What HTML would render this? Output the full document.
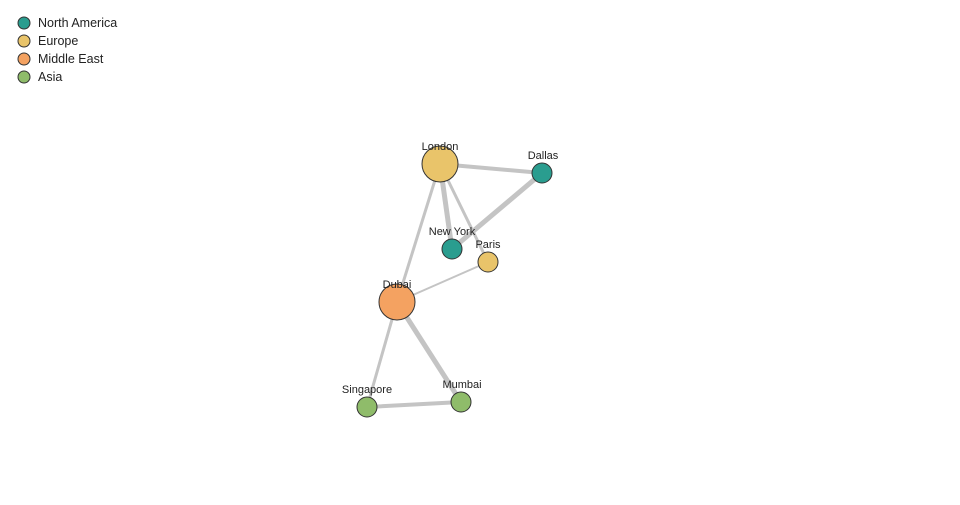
<!DOCTYPE html>
<html><head><style>
body{margin:0;width:960px;height:500px;background:#fff;overflow:hidden}
svg text{font-family:"Liberation Sans","DejaVu Sans",sans-serif;fill:#222}
</style></head><body>
<svg width="960" height="500" viewBox="0 0 960 500">
<g stroke="#c4c4c4" stroke-linecap="round">
<line x1="440" y1="164" x2="542" y2="173" stroke-width="4"/>
<line x1="440" y1="164" x2="452" y2="249" stroke-width="5"/>
<line x1="440" y1="164" x2="488" y2="262" stroke-width="3"/>
<line x1="542" y1="173" x2="452" y2="249" stroke-width="5"/>
<line x1="440" y1="164" x2="397" y2="302" stroke-width="3"/>
<line x1="397" y1="302" x2="488" y2="262" stroke-width="2"/>
<line x1="397" y1="302" x2="367" y2="407" stroke-width="3"/>
<line x1="397" y1="302" x2="461" y2="402" stroke-width="5"/>
<line x1="367" y1="407" x2="461" y2="402" stroke-width="4"/>
</g>
<g stroke="#333" stroke-width="1">
<circle cx="440" cy="164" r="18" fill="#e9c46a"/>
<circle cx="542" cy="173" r="10" fill="#2a9d8f"/>
<circle cx="452" cy="249" r="10" fill="#2a9d8f"/>
<circle cx="488" cy="262" r="10" fill="#e9c46a"/>
<circle cx="397" cy="302" r="18" fill="#f4a261"/>
<circle cx="367" cy="407" r="10" fill="#8fbc6a"/>
<circle cx="461" cy="402" r="10" fill="#8fbc6a"/>
</g>
<g font-size="11" text-anchor="middle">
<text x="440" y="150">London</text>
<text x="543" y="159">Dallas</text>
<text x="452" y="235">New York</text>
<text x="488" y="248">Paris</text>
<text x="397" y="288">Dubai</text>
<text x="367" y="393">Singapore</text>
<text x="462" y="388">Mumbai</text>
</g>
<g stroke="#333" stroke-width="1">
<circle cx="24" cy="23" r="6" fill="#2a9d8f"/>
<circle cx="24" cy="41" r="6" fill="#e9c46a"/>
<circle cx="24" cy="59" r="6" fill="#f4a261"/>
<circle cx="24" cy="77" r="6" fill="#8fbc6a"/>
</g>
<g font-size="12.5">
<text x="38" y="27">North America</text>
<text x="38" y="45">Europe</text>
<text x="38" y="63">Middle East</text>
<text x="38" y="81">Asia</text>
</g>
</svg>
</body></html>
